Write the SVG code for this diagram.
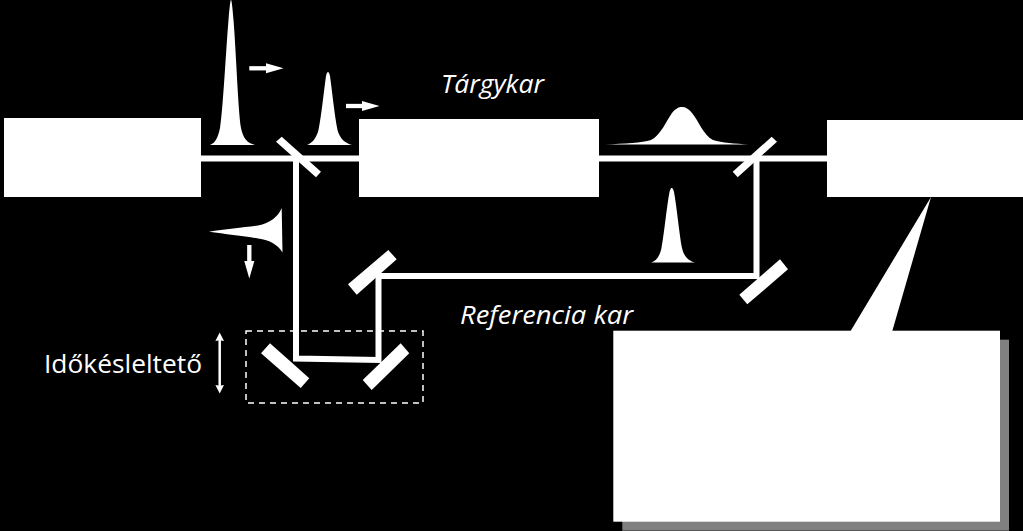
<svg xmlns="http://www.w3.org/2000/svg" width="1023" height="531" viewBox="0 0 1023 531">
<defs>
<marker id="head" markerUnits="userSpaceOnUse" markerWidth="19" markerHeight="12" refX="1.500" refY="6" orient="auto"><path d="M0 0.800L18 6L0 11.200L1 6Z" fill="#fff"/></marker>
<marker id="headSmall" markerUnits="userSpaceOnUse" markerWidth="10" markerHeight="10" refX="1" refY="5" orient="auto-start-reverse"><path d="M0 0.700L8.500 5L0 9.300L0.800 5Z" fill="#fff"/></marker>
</defs>
<style>
.box{fill:#fff}
.beam{fill:none;stroke:#fff;stroke-width:6}
.mirror{fill:#fff}
.pulse{fill:#fff}
.arrow{stroke:#fff;stroke-width:4.300;fill:none;marker-end:url(#head)}
.lbl{font-family:"Open Sans","Noto Sans",sans-serif;fill:#fff;font-size:26px}
.it{font-style:italic}
</style>
<rect width="1023" height="531" fill="#000"/>
<g id="connectors">
<path class="beam" d="M201 158.500H359M599 158.500H827"/>
<path class="beam" d="M296 158V358.500L378.500 360V276H756.500V158"/>
</g>
<g id="source"><rect class="box" x="4" y="118" width="197" height="79"/></g>
<g id="sample"><rect class="box" x="359" y="119" width="240" height="78"/></g>
<g id="detector"><rect class="box" x="827" y="120" width="196" height="77"/></g>
<g id="mirrors">
<polygon class="mirror" points="276,141.700 281.700,136.700 321,171.700 316,177.300"/>
<polygon class="mirror" points="771.700,136.700 777,141.700 737.700,177.300 732.700,171.700"/>
<polygon class="mirror" points="780,259.300 788,269.300 747.300,304.300 739.300,294.700"/>
<polygon class="mirror" points="388.300,250 396.700,259.300 356.700,294.700 348,284.300"/>
<polygon class="mirror" points="270,343.300 309.300,378.300 300.700,388 261,353.300"/>
<polygon class="mirror" points="400.700,343.300 409.300,353.300 371.700,390 362.700,380"/>
</g>
<g id="pulses">
<path class="pulse" d="M210 145C215 143 218 138 220 128C223 110 226 50 228.500 20C229.500 8 230.300 0 231 0C231.700 0 232.500 8 233.500 20C236 50 238 110 241 128C243 138 247 143 255 145Z"/>
<path class="pulse" d="M307 145C312 143 316 139 318.500 130C321.500 115 324 90 326 76C326.700 73 327.300 72 328 72C328.700 72 329.300 73 330 76C332 90 334.500 115 337.500 130C340 139 345 143 352 145Z"/>
<path class="pulse" d="M605 144.500C625 143.500 642 143 651 140C660 136 667 120 672 113C676 108 679 107 681.700 107C685 107 688 108 692 113C698 120 704 136 713 140C722 143 735 143.500 749 144.500Z"/>
<path class="pulse" d="M651 262.500C656 261 659.500 257 661.500 248C664 235 667 205 669.500 192C670.500 188.500 671 188 671.700 188C672.500 188 673 188.500 674 192C676.500 205 679.500 235 682 248C684 257 689 261 695 262.500Z"/>
<path class="pulse" d="M209 231.700C225 229 245 227.500 258 225.500C270 223 278 217 281.700 208L282.500 252.500C278 245 270 240 258 238.500C245 236 225 234 209 231.700Z"/>
</g>
<g id="arrows">
<path class="arrow" d="M249.300 68.300H267"/>
<path class="arrow" d="M346 106H363"/>
<path class="arrow" d="M249.300 245V262"/>
<path d="M219.700 340V386" stroke="#fff" stroke-width="2.500" fill="none" marker-start="url(#headSmall)" marker-end="url(#headSmall)"/>
</g>
<g id="delay"><rect x="246" y="331" width="177" height="72" fill="none" stroke="#fff" stroke-width="1.500" stroke-dasharray="6 5"/></g>
<g id="callout">
<rect x="622.300" y="339.700" width="386.700" height="191" fill="#808080"/>
<polygon class="box" points="931,197 850,332 892,332"/>
<rect class="box" x="613.300" y="330.700" width="386.700" height="191"/>
</g>
<text class="lbl it" x="441" y="93" textLength="103" lengthAdjust="spacingAndGlyphs">Tárgykar</text>
<text class="lbl it" x="460" y="324" textLength="173" lengthAdjust="spacingAndGlyphs">Referencia kar</text>
<text class="lbl" x="44" y="373" textLength="158" lengthAdjust="spacingAndGlyphs">Időkésleltető</text>
</svg>
